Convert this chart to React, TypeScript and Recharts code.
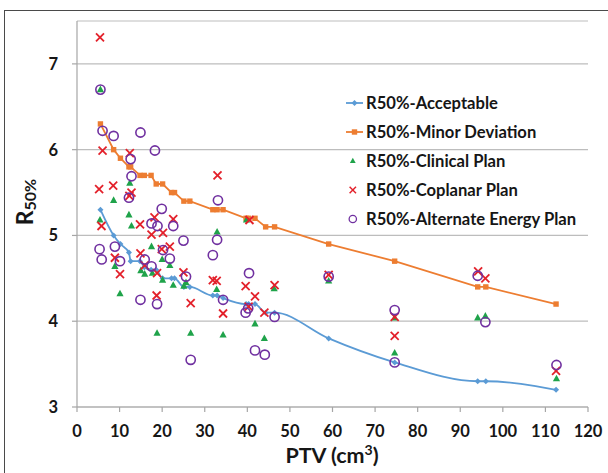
import React from 'react';
import {
    ComposedChart, Line, Scatter, XAxis, YAxis, CartesianGrid,
} from 'recharts';

// ─── Data ─────────────────────────────────────────────────────────────────────

const X_TICKS = [0, 10, 20, 30, 40, 50, 60, 70, 80, 90, 100, 110, 120];
const Y_TICKS = [3, 4, 5, 6, 7];

// PTV values used by both reference lines
const linePtv = [
    5.5, 8.6, 10.2, 12.2, 12.6, 14.8, 15.8, 17.4, 18.6, 20.1, 22.2, 22.9, 25.1, 26.5,
    31.9, 32.9, 34.3, 39.7, 40.3, 41.8, 44.3, 46.4, 59.1, 74.6, 94.1, 96.0, 112.5,
];
const acceptableR50 = [
    5.3, 5.0, 4.9, 4.8, 4.7, 4.7, 4.63, 4.6, 4.6, 4.5, 4.5, 4.5, 4.4, 4.4,
    4.3, 4.3, 4.27, 4.2, 4.2, 4.2, 4.1, 4.1, 3.8, 3.52, 3.3, 3.3, 3.2,
];
const minorDeviationR50 = [
    6.3, 6.0, 5.9, 5.8, 5.8, 5.7, 5.7, 5.7, 5.6, 5.6, 5.5, 5.5, 5.4, 5.4,
    5.3, 5.3, 5.3, 5.2, 5.2, 5.2, 5.1, 5.1, 4.9, 4.7, 4.4, 4.4, 4.2,
];

const clinicalPtv = [
    5.5, 5.4, 8.6, 8.9, 10.1, 12.4, 12.2, 12.8, 15.0, 15.9, 17.5, 17.7, 18.8, 20.0, 20.1,
    21.8, 22.6, 25.1, 25.6, 26.7, 32.9, 32.8, 34.3, 39.8, 41.8, 44.0, 46.3, 59.1, 74.6,
    74.6, 94.1, 95.9, 112.6,
];
const clinicalR50 = [
    6.70, 5.18, 5.41, 4.64, 4.32, 5.61, 5.24, 5.11, 4.59, 4.55, 4.87, 4.56, 3.86, 4.72, 4.48,
    4.65, 4.42, 4.41, 4.45, 3.86, 5.04, 4.37, 3.84, 5.18, 3.97, 3.80, 4.38, 4.47, 4.04,
    3.63, 4.04, 4.06, 3.33,
];

const coplanarPtv = [
    5.4, 6.0, 5.2, 5.75, 8.5, 8.9, 10.1, 12.4, 12.8, 12.3, 14.8, 14.9, 15.9, 17.5, 18.2,
    18.8, 18.7, 20.2, 19.9, 21.8, 22.6, 25.0, 26.7, 31.9, 32.8, 33.0, 34.3, 39.6, 40.3,
    40.5, 41.8, 44.0, 46.4, 59.1, 74.6, 74.6, 94.2, 95.9, 112.5,
];
const coplanarR50 = [
    7.31, 5.99, 5.54, 5.11, 5.58, 4.74, 4.55, 5.96, 5.50, 5.46, 5.13, 4.79, 4.65, 5.01, 5.21,
    4.56, 4.30, 5.03, 4.84, 4.87, 5.19, 4.57, 4.21, 4.48, 4.47, 5.70, 4.09, 4.41, 4.17,
    5.18, 4.29, 4.10, 4.42, 4.54, 4.05, 3.83, 4.58, 4.50, 3.42,
];

const alternatePtv = [
    5.5, 6.0, 8.6, 14.9, 18.3, 12.6, 12.8, 12.2, 5.3, 5.8, 8.9, 10.1, 14.9, 15.9, 17.5,
    17.5, 18.9, 19.9, 20.2, 18.8, 21.8, 22.6, 25.0, 25.6, 26.7, 31.9, 32.9, 33.1, 34.3,
    39.6, 40.4, 40.2, 41.8, 44.1, 46.4, 59.1, 74.6, 74.6, 94.1, 95.9, 112.6,
];
const alternateR50 = [
    6.70, 6.22, 6.16, 6.20, 5.99, 5.89, 5.69, 5.44, 4.84, 4.72, 4.87, 4.70, 4.25, 4.72, 4.64,
    5.14, 5.11, 5.31, 4.83, 4.20, 4.73, 5.11, 4.94, 4.52, 3.55, 4.77, 4.95, 5.41, 4.25,
    4.10, 4.56, 4.15, 3.66, 3.61, 4.05, 4.52, 4.13, 3.52, 4.53, 3.99, 3.49,
];

// ─── Style ────────────────────────────────────────────────────────────────────

const FONT = 'Lato, "Open Sans", sans-serif';
const TEXT = '#161616';
const AXIS = '#a6a6a6';
const GRID = '#bdbdbd';
const BLUE = '#5b9bd5';
const ORANGE = '#ed7d31';
const GREEN = '#1fa34a';
const RED = '#e3202a';
const PURPLE = '#7030a0';

const zip = (xs: number[], ys: number[]) => xs.map((x, i) => ({ x, y: ys[i] }));

// ─── Markers ──────────────────────────────────────────────────────────────────

const Diamond = ({ cx, cy }: { cx: number; cy: number }) => (
    <polygon points={`${cx},${cy - 3} ${cx + 3},${cy} ${cx},${cy + 3} ${cx - 3},${cy}`} fill={BLUE} />
);
const Square = ({ cx, cy }: { cx: number; cy: number }) => (
    <rect x={cx - 2.7} y={cy - 2.7} width={5.4} height={5.4} fill={ORANGE} />
);
const Triangle = ({ cx, cy }: { cx: number; cy: number }) => (
    <polygon points={`${cx},${cy - 4} ${cx + 3.6},${cy + 2.6} ${cx - 3.6},${cy + 2.6}`} fill={GREEN} />
);
const Cross = ({ cx, cy }: { cx: number; cy: number }) => (
    <g stroke={RED} strokeWidth={1.8}>
        <line x1={cx - 4} y1={cy - 4} x2={cx + 4} y2={cy + 4} />
        <line x1={cx - 4} y1={cy + 4} x2={cx + 4} y2={cy - 4} />
    </g>
);
const Ring = ({ cx, cy }: { cx: number; cy: number }) => (
    <circle cx={cx} cy={cy} r={4.6} fill="none" stroke={PURPLE} strokeWidth={1.6} />
);

const lineDot = (Shape: typeof Diamond) => (p: any) => (
    <Shape key={`d-${p.index}`} cx={p.cx} cy={p.cy} />
);
const scatterShape = (Shape: typeof Diamond) => (p: any) => <Shape cx={p.cx} cy={p.cy} />;

// ─── Legend ───────────────────────────────────────────────────────────────────

const legendItems: Array<{ label: string; kind: 'line' | 'mark'; color: string; Shape: typeof Diamond }> = [
    { label: 'R50%-Acceptable', kind: 'line', color: BLUE, Shape: Diamond },
    { label: 'R50%-Minor Deviation', kind: 'line', color: ORANGE, Shape: Square },
    { label: 'R50%-Clinical Plan', kind: 'mark', color: GREEN, Shape: Triangle },
    { label: 'R50%-Coplanar Plan', kind: 'mark', color: RED, Shape: Cross },
    { label: 'R50%-Alternate Energy Plan', kind: 'mark', color: PURPLE, Shape: Ring },
];

function ChartLegend() {
    return (
        <div style={{ position: 'absolute', left: 344, top: 88, fontFamily: FONT }}>
            {legendItems.map((item) => (
                <div key={item.label} style={{ display: 'flex', alignItems: 'center', height: 29 }}>
                    <svg width={22} height={16} style={{ display: 'block' }}>
                        {item.kind === 'line' && (
                            <line x1={2} y1={8} x2={19} y2={8} stroke={item.color} strokeWidth={1.8} />
                        )}
                        {item.kind === 'line'
                            ? <item.Shape cx={10.5} cy={8} />
                            : <g transform="scale(0.8) translate(2.5 2)"><item.Shape cx={8.5} cy={8} /></g>}
                    </svg>
                    <span style={{ fontSize: 16.6, fontWeight: 700, color: TEXT, whiteSpace: 'nowrap' }}>
                        {item.label}
                    </span>
                </div>
            ))}
        </div>
    );
}

// ─── Component ────────────────────────────────────────────────────────────────

export default function App() {
    const tick = { fontSize: 16.5, fontWeight: 700, fill: TEXT, fontFamily: FONT };
    return (
        <div style={{ position: 'absolute', left: 0, top: 0, width: 608, height: 473, overflow: 'hidden', background: '#fff' }}>
            <div style={{
                position: 'absolute', left: 4, top: 10, width: 700, height: 600,
                border: '1.5px solid #4a4a4a', boxSizing: 'border-box',
            }} />
            <div style={{ position: 'absolute', left: 0, top: 0 }}>
                <ComposedChart width={608} height={473} margin={{ top: 21, right: 20, bottom: 0, left: 0 }}>
                    <CartesianGrid vertical={false} stroke={GRID} strokeWidth={1.2} />
                    <XAxis
                        type="number"
                        dataKey="x"
                        domain={[0, 120]}
                        ticks={X_TICKS}
                        height={66}
                        tickSize={5}
                        tickMargin={13}
                        stroke={AXIS}
                        strokeWidth={1.2}
                        tick={tick}
                        label={{
                            content: () => (
                                <text x={332} y={463} textAnchor="middle" fill={TEXT}
                                    style={{ fontFamily: FONT, fontWeight: 700, fontSize: 21.5 }}>
                                    <tspan>PTV (cm</tspan>
                                    <tspan dy={-8} fontSize={14}>3</tspan>
                                    <tspan dy={8}>)</tspan>
                                </text>
                            ),
                        }}
                    />
                    <YAxis
                        type="number"
                        dataKey="y"
                        domain={[3, 7.5]}
                        ticks={Y_TICKS}
                        width={77}
                        tickSize={5}
                        tickMargin={14}
                        stroke={AXIS}
                        strokeWidth={1.2}
                        tick={tick}
                        label={{
                            content: () => (
                                <text x={33} y={202} textAnchor="middle" transform="rotate(-90 33 202)" fill={TEXT}
                                    style={{ fontFamily: FONT, fontWeight: 700 }}>
                                    <tspan fontSize={23}>R</tspan>
                                    <tspan fontSize={16} dy={3}>50%</tspan>
                                </text>
                            ),
                        }}
                    />
                    <Line
                        data={zip(linePtv, acceptableR50)}
                        type="monotone"
                        dataKey="y"
                        stroke={BLUE}
                        strokeWidth={1.8}
                        dot={lineDot(Diamond)}
                        activeDot={false}
                        isAnimationActive={false}
                    />
                    <Line
                        data={zip(linePtv, minorDeviationR50)}
                        type="linear"
                        dataKey="y"
                        stroke={ORANGE}
                        strokeWidth={1.8}
                        dot={lineDot(Square)}
                        activeDot={false}
                        isAnimationActive={false}
                    />
                    <Scatter data={zip(clinicalPtv, clinicalR50)} dataKey="y" shape={scatterShape(Triangle)} isAnimationActive={false} />
                    <Scatter data={zip(coplanarPtv, coplanarR50)} dataKey="y" shape={scatterShape(Cross)} isAnimationActive={false} />
                    <Scatter data={zip(alternatePtv, alternateR50)} dataKey="y" shape={scatterShape(Ring)} isAnimationActive={false} />
                </ComposedChart>
            </div>
            <ChartLegend />
        </div>
    );
}
